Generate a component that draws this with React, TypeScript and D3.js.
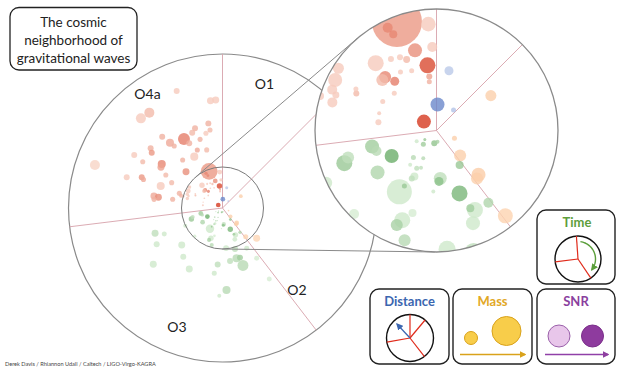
import React from 'react';
import * as d3 from 'd3';

// ---------- DATA ----------
const runNames = ['O1', 'O2', 'O3', 'O4a'];
// run start on the clock (degrees clockwise from top)
const runStartDeg = [0, 45, 142.5, 263];
// event rows: [time (clock deg), distance (Gpc), mass, SNR]
const o1Events = [
  [2.2, 0.44, 6.9, 26],
  [11.8, 1.03, 2.85, 14],
  [39.7, 0.45, 0.88, 15],
];
const o2Events = [
  [57.3, 1.09, 4.3, 17],
  [113.4, 0.33, 0.88, 17],
  [136.6, 0.58, 5.1, 17],
  [136.5, 1.03, 6.9, 18],
  [139.8, 1.06, 5.1, 17],
  [141.1, 1.85, 7.9, 16],
  [131.5, 2.28, 15, 15],
];
const o3Events = [
  [146.1, 0.70, 2.25, 19], [175.5, 0.81, 5.9, 14], [177.2, 0.86, 2.85, 21],
  [159.9, 1.13, 9.0, 23], [144.3, 1.50, 3.5, 16], [154.2, 1.49, 9.0, 12],
  [156.5, 1.43, 2.25, 18], [158.5, 1.68, 6.9, 12], [174.9, 2.01, 10.2, 12],
  [175, 0.19, 0.56, 17], [256.1, 1.12, 6.9, 18], [251.1, 1.07, 3.5, 15],
  [240.4, 0.87, 6.9, 25], [250.5, 1.65, 9.0, 19], [253.0, 1.56, 5.1, 14],
  [234.6, 1.22, 6.9, 16], [211.2, 1.21, 22, 12], [210.1, 1.08, 0.88, 19],
  [241.6, 0.38, 0.56, 12], [232, 0.25, 0.32, 19], [223.9, 0.32, 0.88, 18],
  [189.8, 0.22, 1.27, 20], [220.5, 0.60, 0.88, 15], [205.4, 0.52, 0.56, 15],
  [217.5, 0.73, 0.56, 12], [207.6, 0.72, 0.88, 14], [202.6, 0.68, 0.56, 14],
  [205.7, 0.86, 2.25, 12], [207.3, 0.91, 1.27, 14], [183, 1.03, 0.56, 12],
  [244.6, 2.06, 5.1, 12], [224.6, 1.98, 3.5, 11], [200.9, 1.62, 9.0, 12],
  [202.8, 1.73, 5.1, 17], [196.2, 1.45, 2.25, 11], [196.2, 1.93, 5.1, 15],
  [249.5, 3.60, 15, 14], [245.9, 3.19, 7.7, 12], [241.1, 3.76, 11, 12],
  [227.8, 2.75, 15, 12], [218.8, 3.13, 11, 12], [230.9, 4.46, 15, 12],
  [208.6, 3.47, 15, 12], [184.9, 2.83, 11, 14], [187.2, 3.29, 7.7, 12],
  [164.4, 2.61, 20, 15], [160.6, 2.63, 11, 18], [160.4, 3.05, 37, 15],
  [171.9, 2.68, 11, 14], [177.2, 4.10, 20, 15], [182.1, 4.39, 4.9, 12],
  [145.8, 3.04, 7.7, 11], [146.6, 4.25, 7.7, 11], [163, 2.14, 11, 14],
  [149, 2.35, 7.7, 12],
];
const o4aEvents = [
  [340.0, 1.95, 88, 18], [334.6, 1.92, 3.5, 20], [335.8, 1.78, 2.25, 20],
  [355.6, 1.80, 7.5, 12], [357.1, 1.41, 3.5, 12], [345.0, 1.40, 6.9, 19],
  [352.1, 1.11, 9.0, 27], [352.4, 0.92, 1.27, 17], [351.6, 0.83, 0.88, 15],
  [317.9, 1.53, 9.0, 12], [327.5, 1.43, 1.27, 12], [333.5, 1.38, 1.27, 12],
  [337.2, 1.30, 1.7, 14], [316.1, 1.25, 5.1, 20], [313.0, 1.25, 5.1, 14],
  [319.7, 1.09, 2.85, 21], [328.4, 1.16, 0.88, 12], [337.4, 1.09, 0.88, 12],
  [311.4, 0.95, 0.88, 12], [298.3, 1.03, 0.88, 12], [286.7, 1.01, 0.56, 12],
  [278.0, 0.99, 1.27, 12], [305.2, 0.26, 6.9, 29], [302.4, 1.96, 4.3, 12],
  [296.5, 1.91, 6.9, 12], [291.4, 1.89, 3.5, 12], [289.4, 1.80, 1.7, 12],
  [285.1, 1.82, 3.5, 12], [297.3, 1.53, 0.88, 12], [294.8, 1.49, 1.27, 14],
  [286.5, 2.05, 2.25, 12],
  [338.6, 6.28, 11, 12], [353.6, 5.40, 15, 12], [356.4, 5.41, 15, 12],
  [317.7, 6.06, 31, 12], [322.5, 6.01, 31, 14], [330.8, 3.95, 44, 21],
  [332.8, 3.64, 11, 15], [321.2, 4.19, 20, 16], [322.1, 3.93, 8, 15],
  [319.8, 4.67, 11, 15], [341.0, 4.22, 11, 15], [338.1, 4.06, 11, 14],
  [350.5, 4.29, 11, 15], [350.9, 3.95, 8, 14], [347.5, 3.83, 8, 12],
  [341.9, 3.61, 8, 15], [336.5, 3.16, 8, 16], [344.8, 3.01, 8, 14],
  [331.2, 2.93, 20, 12], [320.3, 3.12, 8, 15], [309.7, 4.67, 11, 15],
  [308.0, 4.49, 11, 18], [301.0, 5.15, 11, 12], [300.1, 4.61, 8, 14],
  [305.9, 3.75, 20, 20], [303.5, 3.69, 15, 17], [300.2, 3.28, 8, 14],
  [314.8, 2.57, 15, 19], [288.6, 6.73, 31, 11], [287.8, 5.03, 11, 12],
  [290.8, 4.32, 11, 18], [289.8, 4.20, 8, 16], [289.6, 3.28, 20, 12],
  [296.5, 2.84, 8, 14], [279.9, 3.48, 15, 16], [279.5, 3.25, 15, 19],
  [277.2, 3.45, 8, 15], [279.9, 2.53, 8, 15], [288.8, 2.28, 8, 15],
  [286.5, 2.16, 5, 15],
];
const runEvents = [o1Events, o2Events, o3Events, o4aEvents];
const runColors = [
  ['#cdd9f1', '#5878c2'],
  ['#fde2c8', '#f8ad72'],
  ['#d6ecd2', '#4e9c4c'],
  ['#f8d4c6', '#d63a20'],
];
const titleLines = ['The cosmic', 'neighborhood of', 'gravitational waves'];
const creditText = 'Derek Davis / Rhiannon Udall / Caltech / LIGO-Virgo-KAGRA';

// ---------- LAYOUT ----------
const W = 620, H = 372;
const C = { x: 222.5, y: 208 };
const mainR = 154;
const innerR = 41;
const Z = { x: 436.5, y: 130.5 };
const zoomR = 121.5;
const maxDist = 7.7;

const rMain = d3.scaleLinear().domain([0, maxDist]).range([0, mainR]);
const innerDist = rMain.invert(innerR);
const rZoom = d3.scaleLinear().domain([0, innerDist]).range([0, zoomR]);
const timeScale = d3.scaleLinear().domain([0, 360]).range([0, 2 * Math.PI]);
const sizeMain = d3.scaleSqrt().domain([0, 100]).range([0, 9]);
const kZoom = zoomR / innerR;
const snrT = d3.scaleLinear().domain([11, 29]).range([0, 1]).clamp(true);

const polar = (c: { x: number; y: number }, r: number, a: number) => [
  c.x + r * Math.sin(a),
  c.y - r * Math.cos(a),
];

const FONT = 'Lato, "Open Sans", sans-serif';
const SECTOR = '#d7a2aa';

function tangents() {
  const dx = Z.x - C.x, dy = Z.y - C.y;
  const L = Math.hypot(dx, dy);
  const a = Math.atan2(dy, dx);
  const b = Math.acos((innerR - zoomR) / L);
  return [a + b, a - b].map((n) => {
    const nx = Math.cos(n), ny = Math.sin(n);
    return [C.x + innerR * nx, C.y + innerR * ny, Z.x + zoomR * nx, Z.y + zoomR * ny];
  });
}

function Points({ center, rs, k }: { center: any; rs: any; k: number }) {
  const all: any[] = [];
  runEvents.forEach((evs, ri) => {
    evs.forEach((e, i) => {
      all.push({ ri, i, t: e[0], d: e[1], m: e[2], s: e[3] });
    });
  });
  all.sort((a, b) => b.m - a.m);
  return (
    <g>
      {all.map((p) => {
        const [x, y] = polar(center, rs(p.d), timeScale(p.t));
        const col = d3.interpolateRgb(runColors[p.ri][0], runColors[p.ri][1])(snrT(p.s));
        return (
          <circle key={`${p.ri}-${p.i}`} cx={x} cy={y} r={sizeMain(p.m) * k}
            fill={col} fillOpacity={0.8} />
        );
      })}
    </g>
  );
}

function Sectors({ center, R }: { center: any; R: number }) {
  return (
    <g>
      {runStartDeg.map((deg, i) => {
        const [x, y] = polar(center, R, timeScale(deg));
        return <line key={i} x1={center.x} y1={center.y} x2={x} y2={y} stroke={SECTOR} strokeWidth={0.9} />;
      })}
    </g>
  );
}

function Box({ x, y, w, h }: any) {
  return <rect x={x} y={y} width={w} height={h} rx={9} fill="#fff" stroke="#222" strokeWidth={1.4} />;
}

export default function App() {
  const tg = tangents();
  const labelPos = [
    [264.5, 88.5], [297, 295], [177, 332], [147.5, 98.5],
  ];
  // legend geometry
  const tc = { x: 578, y: 259 };
  const dc = { x: 410, y: 338 };
  const legendLinesTime = [-4, 146, 263];
  const legendLinesDist = [0, 40, 142, 260];
  const arcStart = timeScale(8), arcEnd = timeScale(128);
  const arcPts = d3.range(0, 31).map((i) => polar(tc, 17.5, arcStart + (arcEnd - arcStart) * i / 30));
  const arcPath = d3.line()(arcPts as any) as string;
  const [bx, by] = polar(dc, 19, timeScale(317));
  return (
    <div style={{ position: 'absolute', left: 0, top: 0 }}>
      <svg width={W} height={H} style={{ display: 'block', fontFamily: FONT }}>
        <defs>
          <clipPath id="zclip"><circle cx={Z.x} cy={Z.y} r={zoomR} /></clipPath>
          {[['ag', '#5a9e3a'], ['ab', '#3b66b0'], ['ay', '#d9a21b'], ['ap', '#8e3fa0']].map(([id, c]) => (
            <marker key={id} id={id} viewBox="0 0 10 10" refX={8} refY={5} markerWidth={5} markerHeight={5} orient="auto">
              <path d="M0,0 L10,5 L0,10 z" fill={c} />
            </marker>
          ))}
        </defs>
        <rect width={W} height={H} fill="#fff" />
        {/* title */}
        <rect x={10} y={7.5} width={127} height={62.5} rx={9} fill="#fff" stroke="#222" strokeWidth={1.3} />
        {titleLines.map((t, i) => (
          <text key={i} x={73.5} y={27 + i * 18} textAnchor="middle" fontSize={13.5} fill="#222">{t}</text>
        ))}
        {/* main circle */}
        <circle cx={C.x} cy={C.y} r={mainR} fill="#fff" stroke="#8a8a8a" strokeWidth={1.2} />
        <Sectors center={C} R={mainR} />
        <Points center={C} rs={rMain} k={1} />
        <circle cx={C.x} cy={C.y} r={innerR} fill="none" stroke="#7a7a7a" strokeWidth={1} />
        {tg.map((l, i) => (
          <line key={i} x1={l[0]} y1={l[1]} x2={l[2]} y2={l[3]} stroke="#8a8a8a" strokeWidth={1} />
        ))}
        {runNames.map((n, i) => (
          <text key={n} x={labelPos[i][0]} y={labelPos[i][1]} textAnchor="middle" fontSize={14} fill="#222">{n}</text>
        ))}
        {/* zoom circle */}
        <circle cx={Z.x} cy={Z.y} r={zoomR} fill="#fff" />
        <g clipPath="url(#zclip)">
          <Sectors center={Z} R={zoomR} />
          <Points center={Z} rs={rZoom} k={kZoom} />
        </g>
        <circle cx={Z.x} cy={Z.y} r={zoomR} fill="none" stroke="#8a8a8a" strokeWidth={1.3} />
        {/* credit */}
        <text x={5} y={366} fontSize={5.6} fill="#444">{creditText}</text>
        {/* legend: Time */}
        <Box x={537} y={210} w={78} h={74} />
        <text x={577} y={227} textAnchor="middle" fontSize={13} fontWeight="bold" fill="#5e9e3c">Time</text>
        <circle cx={tc.x} cy={tc.y} r={23} fill="#fff" stroke="#111" strokeWidth={1.4} />
        {legendLinesTime.map((a, i) => {
          const [x, y] = polar(tc, 23, timeScale(a));
          return <line key={i} x1={tc.x} y1={tc.y} x2={x} y2={y} stroke="#e02a1a" strokeWidth={1.2} />;
        })}
        <path d={arcPath} fill="none" stroke="#5a9e3a" strokeWidth={1.4} markerEnd="url(#ag)" />
        {/* legend: Distance */}
        <Box x={370} y={289} w={79} h={75} />
        <text x={409.5} y={306} textAnchor="middle" fontSize={13} fontWeight="bold" fill="#3b66b0">Distance</text>
        <circle cx={dc.x} cy={dc.y} r={23.5} fill="#fff" stroke="#111" strokeWidth={1.4} />
        {legendLinesDist.map((a, i) => {
          const [x, y] = polar(dc, 23.5, timeScale(a));
          return <line key={i} x1={dc.x} y1={dc.y} x2={x} y2={y} stroke="#e02a1a" strokeWidth={1.2} />;
        })}
        <line x1={dc.x} y1={dc.y} x2={bx} y2={by} stroke="#3b66b0" strokeWidth={1.4} markerEnd="url(#ab)" />
        {/* legend: Mass */}
        <Box x={453} y={289} w={79} h={75} />
        <text x={492.5} y={306} textAnchor="middle" fontSize={13} fontWeight="bold" fill="#e2a826">Mass</text>
        <circle cx={471} cy={338} r={6.5} fill="#f8cd4a" stroke="#d9a21b" strokeWidth={1} />
        <circle cx={506.5} cy={331} r={14.5} fill="#f8cd4a" stroke="#d9a21b" strokeWidth={1} />
        <line x1={460} y1={354.5} x2={525} y2={354.5} stroke="#d9a21b" strokeWidth={1.3} markerEnd="url(#ay)" />
        {/* legend: SNR */}
        <Box x={537} y={289} w={78} h={75} />
        <text x={576} y={306} textAnchor="middle" fontSize={13} fontWeight="bold" fill="#8a3f9e">SNR</text>
        <circle cx={559} cy={336} r={11} fill="#e8c6ea" stroke="#9a60aa" strokeWidth={1} />
        <circle cx={592.5} cy={336} r={11} fill="#8e3b9e" stroke="#7a2e8a" strokeWidth={1} />
        <line x1={545} y1={354.5} x2={608} y2={354.5} stroke="#9040a8" strokeWidth={1.3} markerEnd="url(#ap)" />
      </svg>
    </div>
  );
}
